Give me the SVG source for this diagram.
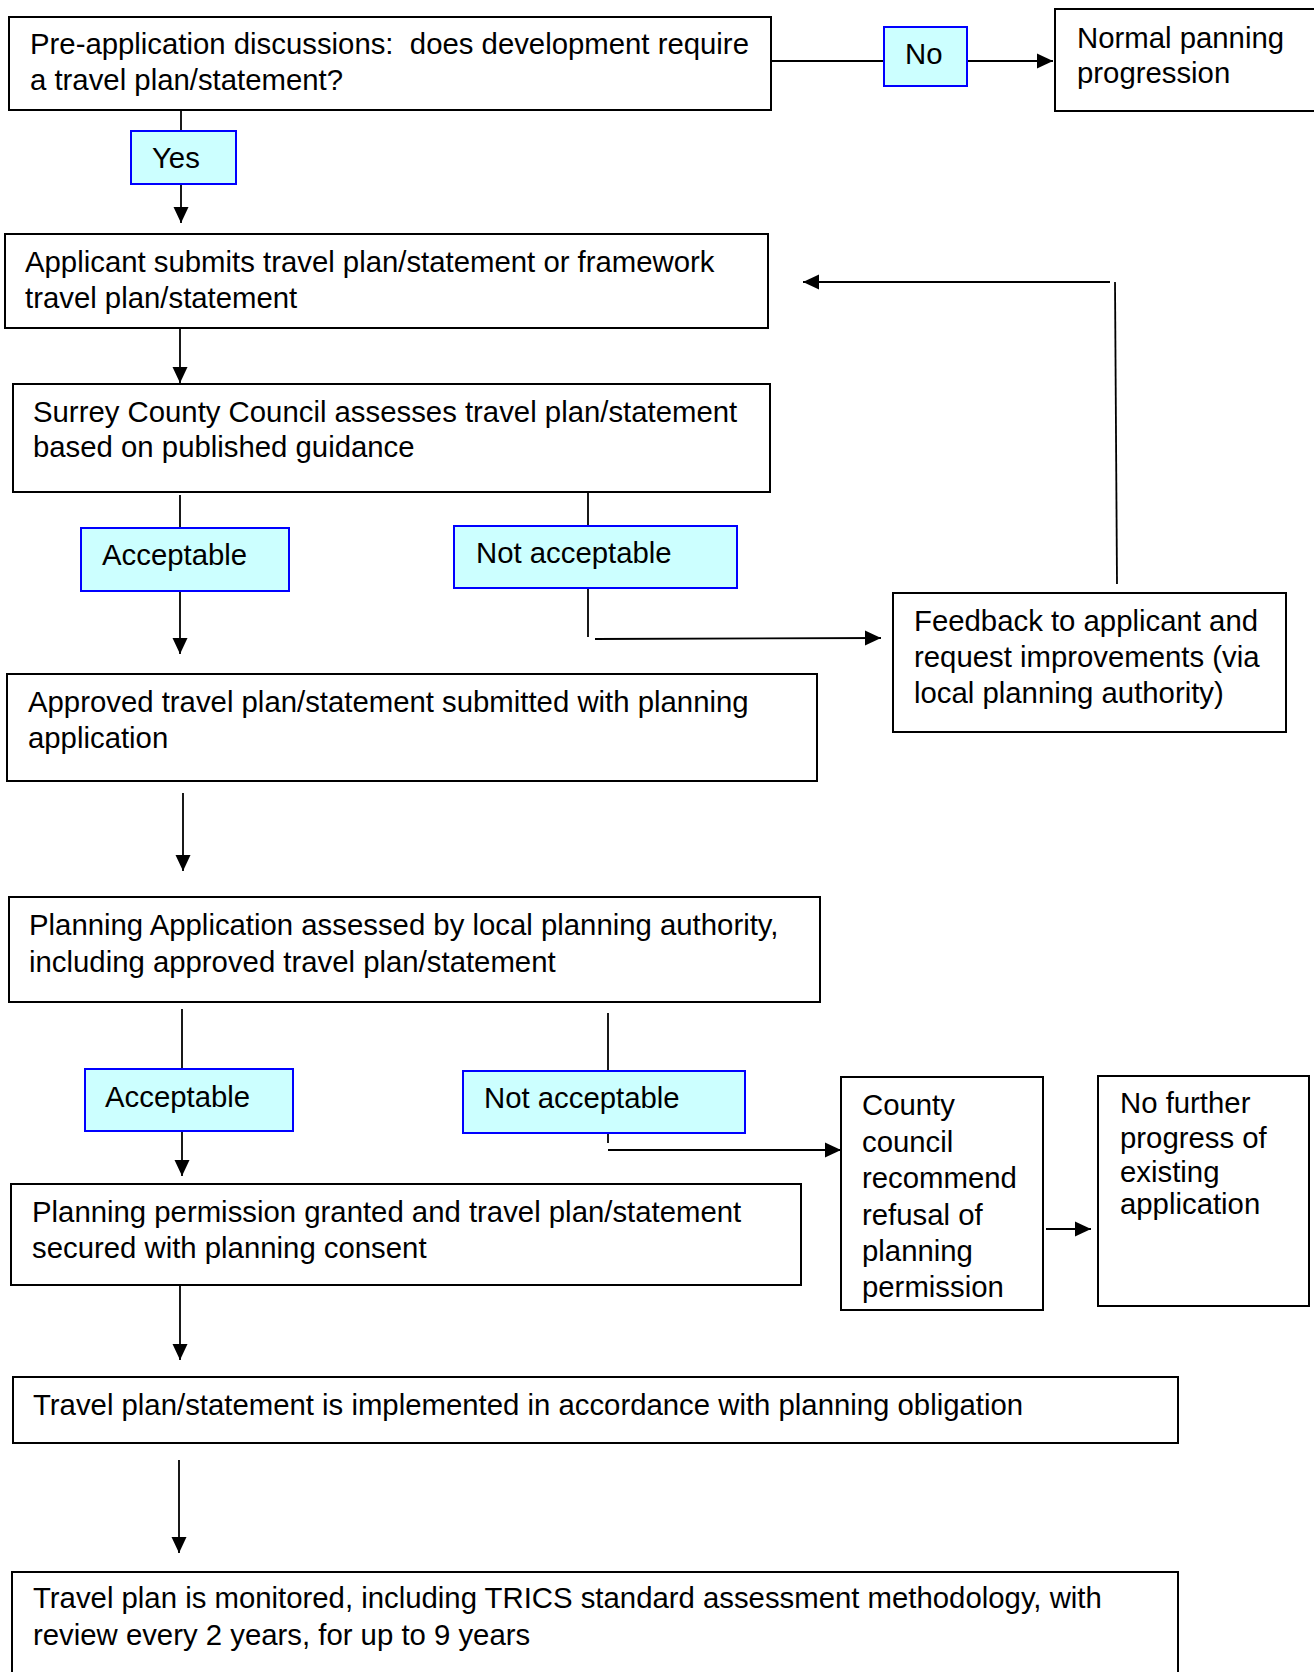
<svg xmlns="http://www.w3.org/2000/svg" width="1314" height="1672" viewBox="0 0 1314 1672">
<style>
.box{fill:#ffffff;stroke:#000000;stroke-width:2}
.lbl{fill:#ccffff;stroke:#0000ff;stroke-width:2}
text{font-family:"Liberation Sans",Arial,sans-serif;font-size:29.33px;fill:#000000}
.c line{stroke:#000000;stroke-width:1.8;fill:none}
.a{marker-end:url(#arr)}
</style>
<defs>
<marker id="arr" markerUnits="userSpaceOnUse" markerWidth="16" markerHeight="16" viewBox="0 0 16 16" refX="16" refY="8" orient="auto">
<path d="M0,0.5 L16,8 L0,15.5 z" fill="#000000"/>
</marker>
</defs>
<rect width="1314" height="1672" fill="#ffffff"/>
<g id="connectors" class="c">
<line x1="181" y1="110" x2="181" y2="131"/>
<line class="a" x1="181" y1="184" x2="181" y2="223"/>
<line x1="771" y1="61" x2="884" y2="61"/>
<line class="a" x1="967" y1="61" x2="1053" y2="61"/>
<line x1="1117" y1="584" x2="1115" y2="282"/>
<line class="a" x1="1110" y1="282" x2="803" y2="282"/>
<line class="a" x1="180" y1="328" x2="180" y2="383"/>
<line x1="180" y1="495" x2="180" y2="528"/>
<line class="a" x1="180" y1="591" x2="180" y2="654"/>
<line x1="588" y1="493" x2="588" y2="526"/>
<line x1="588" y1="588" x2="588" y2="637"/>
<line class="a" x1="595" y1="639" x2="881" y2="638"/>
<line class="a" x1="183" y1="793" x2="183" y2="871"/>
<line x1="182" y1="1009" x2="182" y2="1069"/>
<line class="a" x1="182" y1="1131" x2="182" y2="1176"/>
<line x1="608" y1="1013" x2="608" y2="1071"/>
<line x1="608" y1="1133" x2="608" y2="1143"/>
<line class="a" x1="608" y1="1150" x2="841" y2="1150"/>
<line class="a" x1="1046" y1="1229" x2="1091" y2="1229"/>
<line class="a" x1="180" y1="1285" x2="180" y2="1360"/>
<line class="a" x1="179" y1="1460" x2="179" y2="1553"/>
</g>
<g id="n-preapp"><rect class="box" x="9" y="17" width="762" height="93"/>
<text x="30" y="54" xml:space="preserve">Pre-application discussions:  does development require</text>
<text x="30" y="90">a travel plan/statement?</text></g>
<g id="l-yes"><rect class="lbl" x="131" y="131" width="105" height="53"/><text x="152" y="168">Yes</text></g>
<g id="l-no"><rect class="lbl" x="884" y="27" width="83" height="59"/><text x="905" y="64">No</text></g>
<g id="n-normal"><rect class="box" x="1055" y="9" width="270" height="102"/>
<text x="1077" y="48">Normal panning</text><text x="1077" y="83">progression</text></g>
<g id="n-applicant"><rect class="box" x="5" y="234" width="763" height="94"/>
<text x="25" y="272">Applicant submits travel plan/statement or framework</text>
<text x="25" y="308">travel plan/statement</text></g>
<g id="n-surrey"><rect class="box" x="13" y="384" width="757" height="108"/>
<text x="33" y="422">Surrey County Council assesses travel plan/statement</text>
<text x="33" y="457">based on published guidance</text></g>
<g id="l-acc1"><rect class="lbl" x="81" y="528" width="208" height="63"/><text x="102" y="565">Acceptable</text></g>
<g id="l-nacc1"><rect class="lbl" x="454" y="526" width="283" height="62"/><text x="476" y="563">Not acceptable</text></g>
<g id="n-feedback"><rect class="box" x="893" y="593" width="393" height="139"/>
<text x="914" y="631">Feedback to applicant and</text>
<text x="914" y="667">request improvements (via</text>
<text x="914" y="703">local planning authority)</text></g>
<g id="n-approved"><rect class="box" x="7" y="674" width="810" height="107"/>
<text x="28" y="712">Approved travel plan/statement submitted with planning</text>
<text x="28" y="748">application</text></g>
<g id="n-lpa"><rect class="box" x="9" y="897" width="811" height="105"/>
<text x="29" y="935">Planning Application assessed by local planning authority,</text>
<text x="29" y="972">including approved travel plan/statement</text></g>
<g id="l-acc2"><rect class="lbl" x="85" y="1069" width="208" height="62"/><text x="105" y="1107">Acceptable</text></g>
<g id="l-nacc2"><rect class="lbl" x="463" y="1071" width="282" height="62"/><text x="484" y="1108">Not acceptable</text></g>
<g id="n-county"><rect class="box" x="841" y="1077" width="202" height="233"/>
<text x="862" y="1115">County</text><text x="862" y="1152">council</text><text x="862" y="1188">recommend</text>
<text x="862" y="1225">refusal of</text><text x="862" y="1261">planning</text><text x="862" y="1297">permission</text></g>
<g id="n-nofurther"><rect class="box" x="1098" y="1076" width="211" height="230"/>
<text x="1120" y="1113">No further</text><text x="1120" y="1148">progress of</text>
<text x="1120" y="1182">existing</text><text x="1120" y="1214">application</text></g>
<g id="n-granted"><rect class="box" x="11" y="1184" width="790" height="101"/>
<text x="32" y="1222">Planning permission granted and travel plan/statement</text>
<text x="32" y="1258">secured with planning consent</text></g>
<g id="n-implemented"><rect class="box" x="13" y="1377" width="1165" height="66"/>
<text x="33" y="1415">Travel plan/statement is implemented in accordance with planning obligation</text></g>
<g id="n-monitored"><rect class="box" x="12" y="1572" width="1166" height="130"/>
<text x="33" y="1608">Travel plan is monitored, including TRICS standard assessment methodology, with</text>
<text x="33" y="1645">review every 2 years, for up to 9 years</text></g>
</svg>
